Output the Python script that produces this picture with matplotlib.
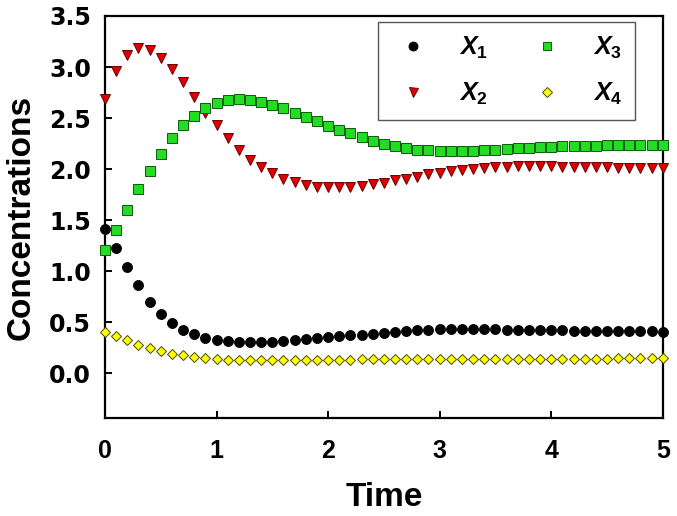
import matplotlib
matplotlib.use('Agg')
import matplotlib.pyplot as plt
import numpy as np

plt.rcParams['font.family'] = ['Liberation Sans', 'DejaVu Sans']
plt.rcParams['font.weight'] = 'bold'
plt.rcParams['mathtext.fontset'] = 'custom'
plt.rcParams['mathtext.it'] = 'Liberation Sans:italic:bold'
plt.rcParams['mathtext.rm'] = 'Liberation Sans:bold'

# time grid (one sample every 0.1)
time = np.linspace(0, 5, 51)

x1 = [1.41, 1.23, 1.04, 0.86, 0.70, 0.58, 0.49, 0.42, 0.38, 0.34,
      0.32, 0.31, 0.30, 0.30, 0.30, 0.30, 0.31, 0.32, 0.33, 0.34,
      0.35, 0.36, 0.37, 0.37, 0.38, 0.39, 0.40, 0.41, 0.42, 0.42,
      0.43, 0.43, 0.43, 0.43, 0.43, 0.43, 0.42, 0.42, 0.42, 0.42,
      0.42, 0.42, 0.41, 0.41, 0.41, 0.41, 0.41, 0.41, 0.41, 0.41, 0.40]
x2 = [2.69, 2.96, 3.12, 3.19, 3.17, 3.09, 2.98, 2.85, 2.71, 2.55,
      2.43, 2.30, 2.19, 2.09, 2.02, 1.96, 1.90, 1.87, 1.84, 1.82,
      1.82, 1.82, 1.82, 1.83, 1.85, 1.86, 1.89, 1.90, 1.92, 1.95,
      1.96, 1.98, 1.99, 2.00, 2.01, 2.02, 2.02, 2.03, 2.03, 2.03,
      2.03, 2.02, 2.02, 2.02, 2.02, 2.02, 2.01, 2.01, 2.01, 2.01, 2.01]
x3 = [1.21, 1.40, 1.60, 1.80, 1.98, 2.15, 2.30, 2.43, 2.52, 2.60,
      2.65, 2.68, 2.69, 2.68, 2.66, 2.63, 2.60, 2.55, 2.51, 2.47,
      2.42, 2.38, 2.35, 2.31, 2.27, 2.25, 2.23, 2.21, 2.19, 2.19,
      2.18, 2.18, 2.18, 2.18, 2.19, 2.19, 2.20, 2.21, 2.21, 2.22,
      2.22, 2.23, 2.23, 2.23, 2.23, 2.24, 2.24, 2.24, 2.24, 2.24, 2.24]
x4 = [0.40, 0.36, 0.32, 0.28, 0.25, 0.22, 0.19, 0.18, 0.16, 0.15,
      0.14, 0.13, 0.13, 0.13, 0.13, 0.13, 0.13, 0.13, 0.13, 0.13,
      0.13, 0.13, 0.13, 0.14, 0.14, 0.14, 0.14, 0.14, 0.14, 0.14,
      0.14, 0.14, 0.14, 0.14, 0.14, 0.14, 0.14, 0.14, 0.14, 0.14,
      0.14, 0.14, 0.14, 0.14, 0.14, 0.14, 0.15, 0.15, 0.15, 0.15, 0.15]

labels = [r'$X_1$', r'$X_2$', r'$X_3$', r'$X_4$']
yticks = [0.0, 0.5, 1.0, 1.5, 2.0, 2.5, 3.0, 3.5]

fig = plt.figure(figsize=(6.77, 5.16), dpi=100)
ax = fig.add_axes([0.155, 0.19, 0.824, 0.779])

ax.plot(time, x1, 'o', ms=7.2, mfc='black', mec='black', mew=0.6,
        clip_on=False, label=labels[0], zorder=3)
ax.plot(time, x2, 'v', ms=7.2, mfc='#dd0000', mec='#700000', mew=0.7,
        clip_on=False, label=labels[1], zorder=3)
ax.plot(time, x3, 's', ms=6.5, mfc='#22dd22', mec='#0a5a0a', mew=0.7,
        clip_on=False, label=labels[2], zorder=3)
ax.plot(time, x4, 'D', ms=5.6, mfc='#ffff00', mec='#4a4a00', mew=0.7,
        clip_on=False, label=labels[3], zorder=3)

ax.set_xlim(0, 5)
ax.set_ylim(-0.44, 3.5)
ax.set_xticks([0, 1, 2, 3, 4, 5])
ax.set_yticks(yticks)
ax.tick_params(axis='x', direction='in', length=5, width=1.4,
               labelsize=18, pad=15)
ax.tick_params(axis='y', direction='in', length=5, width=1.4, pad=10)
ax.set_yticklabels(['%.1f' % v for v in yticks])
for lab in ax.get_yticklabels():
    lab.set_fontfamily('DejaVu Sans')
    lab.set_fontweight('bold')
    lab.set_fontsize(17)
for sp in ax.spines.values():
    sp.set_linewidth(1.6)

ax.set_xlabel('Time', fontsize=24, fontweight='bold', labelpad=14)
ax.set_ylabel('Concentrations', fontsize=24, fontweight='bold', labelpad=9)

leg = ax.legend(ncol=2, loc='upper left', bbox_to_anchor=(0.489, 0.985),
                borderaxespad=0, fontsize=18, handlelength=1.8,
                handletextpad=0.95, columnspacing=1.45, borderpad=0.5,
                labelspacing=0.82, fancybox=False, framealpha=1,
                markerscale=0.9)
leg.get_frame().set_edgecolor('#555555')
leg.get_frame().set_linewidth(1.0)

fig.savefig('out.png', dpi=100)
